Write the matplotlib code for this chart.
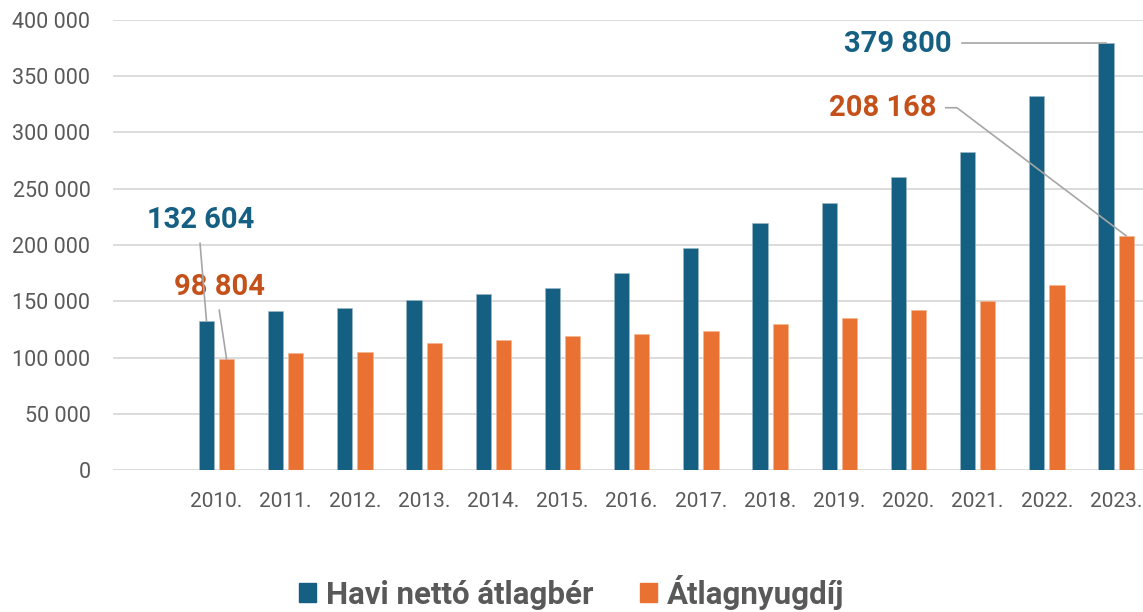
import numpy as np
import matplotlib.pyplot as plt
from matplotlib.patches import Patch
from matplotlib.ticker import FuncFormatter

plt.rcParams['font.family'] = ['Roboto', 'DejaVu Sans']

# data (first slot is empty on purpose)
years = ['', '2010.', '2011.', '2012.', '2013.', '2014.', '2015.', '2016.',
         '2017.', '2018.', '2019.', '2020.', '2021.', '2022.', '2023.']
net_wage = [np.nan, 132604, 141000, 144000, 151000, 156000, 162000, 175000,
            197500, 219500, 237000, 260000, 283000, 332500, 379800]
pension = [np.nan, 98804, 104000, 104600, 113000, 116000, 119000, 121000,
           123500, 130000, 135000, 142000, 150500, 164000, 208168]

c_blue = '#156082'
c_orange = '#E97132'
c_orange_txt = '#C4511A'
c_grey = '#595959'
c_line = '#A6A6A6'

fig = plt.figure(figsize=(11.43, 6.12), dpi=100)
# axes a bit wider than the figure, like the reference where the last slot is cut
ax = fig.add_axes([112.7 / 1143, (612 - 470) / 612, 1038 / 1143, 450 / 612])

x = np.arange(len(years))
w = 0.22
off = 0.145
ax.bar(x - off, net_wage, w, color=c_blue, edgecolor='#9FB8C8', linewidth=0.4, zorder=3)
ax.bar(x + off, pension, w, color=c_orange, edgecolor='#F5B590', linewidth=0.4, zorder=3)

ax.set_xlim(-0.5, len(years) - 0.5)
ax.set_ylim(0, 400000)
ax.set_yticks(np.arange(0, 400001, 50000))
ax.yaxis.set_major_formatter(FuncFormatter(lambda v, p: f'{v:,.0f}'.replace(',', ' ')))
ax.set_xticks(x)
ax.set_xticklabels(years)
ax.tick_params(axis='both', length=0, colors=c_grey)
ax.tick_params(axis='y', pad=16, labelsize=15.5)
ax.tick_params(axis='x', pad=16, labelsize=15)
ax.grid(axis='y', color='#D9D9D9', lw=1.3, zorder=0)
for s in ax.spines.values():
    s.set_visible(False)
ax.set_axisbelow(True)

# data labels with leader lines
lbl = dict(fontsize=21, fontweight='bold', ha='center', va='center')
i0, i1 = 1, len(years) - 1

ax.text(0.776, 222000, '132 604', color=c_blue, **lbl)
ax.plot([0.762, i0 - off], [201500, net_wage[i0]], color=c_line, lw=1.2, zorder=4)

ax.text(1.05, 162500, '98 804', color=c_orange_txt, **lbl)
ax.plot([1.04, i0 + off], [142000, pension[i0]], color=c_line, lw=1.2, zorder=4)

ax.text(10.85, 378500, '379 800', color=c_blue, **lbl)
ax.plot([11.77, i1 - off], [net_wage[i1], net_wage[i1]], color=c_line, lw=1.2, zorder=4)

ax.text(10.63, 321500, '208 168', color=c_orange_txt, **lbl)
ax.plot([11.54, 11.70, i1 + off], [322000, 322000, pension[i1]], color=c_line, lw=1.2, zorder=4)

handles = [Patch(color=c_blue, label='Havi nettó átlagbér'),
           Patch(color=c_orange, label='Átlagnyugdíj')]
leg = fig.legend(handles=handles, loc='center', bbox_to_anchor=(0.5, 20 / 612), ncol=2,
                 frameon=False, handlelength=0.55, handleheight=0.55, handletextpad=0.3,
                 columnspacing=1.5, borderpad=0.2, prop={'size': 22.5, 'weight': 'bold'})
for t in leg.get_texts():
    t.set_color(c_grey)

fig.savefig('out.png', dpi=100)
